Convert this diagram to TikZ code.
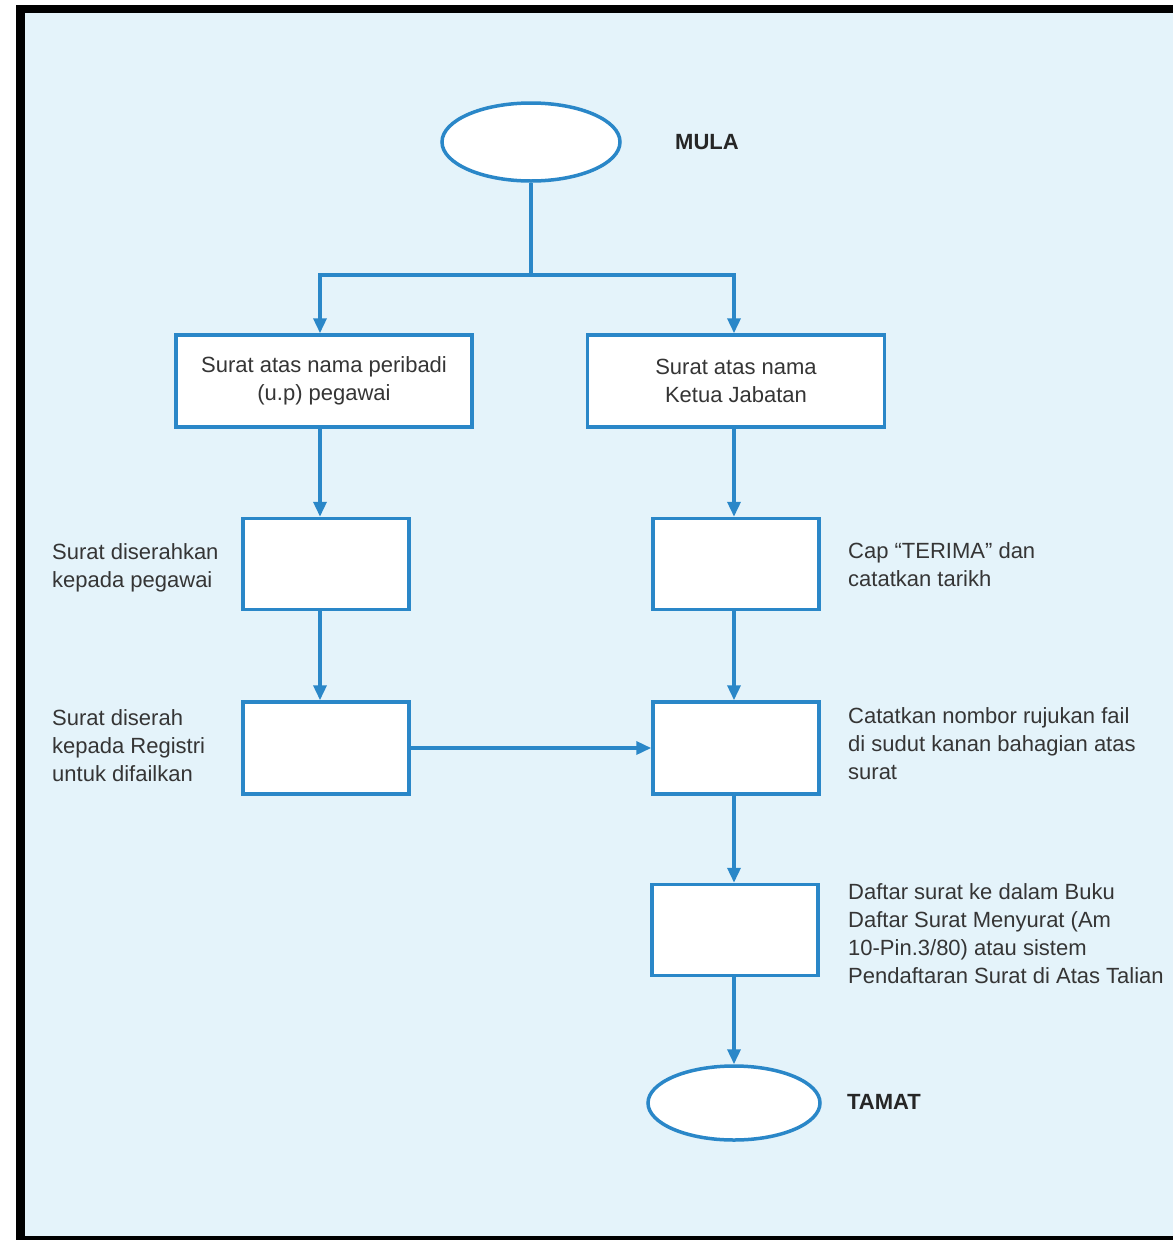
\documentclass[tikz,border=0pt]{standalone}
\usepackage{fontspec}
\setmainfont{Liberation Sans}
\usetikzlibrary{arrows.meta,shapes.geometric}
\definecolor{paper}{HTML}{E4F3FA}
\definecolor{flow}{HTML}{2A87C8}
\definecolor{ink}{HTML}{353535}
\begin{document}
\begin{tikzpicture}[x=1pt,y=-1pt,
  every node/.style={font=\fontsize{22}{28}\selectfont, text=ink},
  stepbox/.style={draw=flow, line width=3.5pt, fill=white, minimum width=#1, inner sep=0pt},
  stepbox/.default=166pt,
  terminal/.style={draw=flow, line width=3.5pt, fill=white, ellipse, inner sep=0pt},
  note/.style={anchor=west, align=left, inner sep=0pt},
  tag/.style={font=\fontsize{22}{28}\selectfont\bfseries, text=black!85},
  link/.style={draw=flow, line width=3.5pt, -{Triangle[width=13pt,length=15pt]}},
  plain/.style={draw=flow, line width=3.5pt}]
\useasboundingbox (0,0) rectangle (1173,1240);
% frame and paper
\fill[white] (0,0) rectangle (1173,1240);
\fill[black] (16,5) rectangle (1173,1240);
\fill[paper] (25,13) rectangle (1173,1236);

% terminals
\node[terminal, minimum width=178pt, minimum height=78pt] (start) at (531,142) {};
\node[tag] (mula) at (707,142) {MULA};
\node[terminal, minimum width=172pt, minimum height=74pt] (end) at (734,1103) {};
\node[tag] (tamat) at (884,1102) {TAMAT};

% first row
\node[stepbox=296pt, minimum height=92pt, align=center] (personal) at (324,381)
  {Surat atas nama peribadi\\(u.p) pegawai};
\node[stepbox=297pt, minimum height=92pt, align=center] (head) at (736,381)
  {Surat atas nama\\Ketua Jabatan};

% left column
\node[stepbox, minimum height=91pt] (hand) at (326,564) {};
\node[stepbox, minimum height=92pt] (registry) at (326,748) {};

% right column
\node[stepbox, minimum height=91pt] (stamp) at (736,564) {};
\node[stepbox, minimum height=92pt] (refno) at (736,748) {};
\node[stepbox, minimum height=91pt] (register) at (735,930) {};

% notes
\node[note] (n1) at (52,568) {Surat diserahkan\\kepada pegawai};
\node[note] (n2) at (52,746) {Surat diserah\\kepada Registri\\untuk difailkan};
\node[note] (n3) at (848,565) {Cap “TERIMA” dan\\catatkan tarikh};
\node[note] (n4) at (848,744) {Catatkan nombor rujukan fail\\di sudut kanan bahagian atas\\surat};
\node[note] (n5) at (848,934) {Daftar surat ke dalam Buku\\Daftar Surat Menyurat (Am\\10-Pin.3/80) atau sistem\\Pendaftaran Surat di Atas Talian};

% connectors
\coordinate (split) at (531,275);
\draw[plain] (start.south) -- (split);
\draw[link] (split) -| ([xshift=-4pt]personal.north);
\draw[link] (split) -| ([xshift=-2pt]head.north);
\draw[link] ([xshift=-4pt]personal.south) -- ([xshift=-6pt]hand.north);
\draw[link] ([xshift=-6pt]hand.south) -- ([xshift=-6pt]registry.north);
\draw[link] (registry.east) -- (refno.west);
\draw[link] ([xshift=-2pt]head.south) -- ([xshift=-2pt]stamp.north);
\draw[link] ([xshift=-2pt]stamp.south) -- ([xshift=-2pt]refno.north);
\draw[link] ([xshift=-2pt]refno.south) -- ([xshift=-1pt]register.north);
\draw[link] ([xshift=-1pt]register.south) -- (end.north);
\end{tikzpicture}
\end{document}
